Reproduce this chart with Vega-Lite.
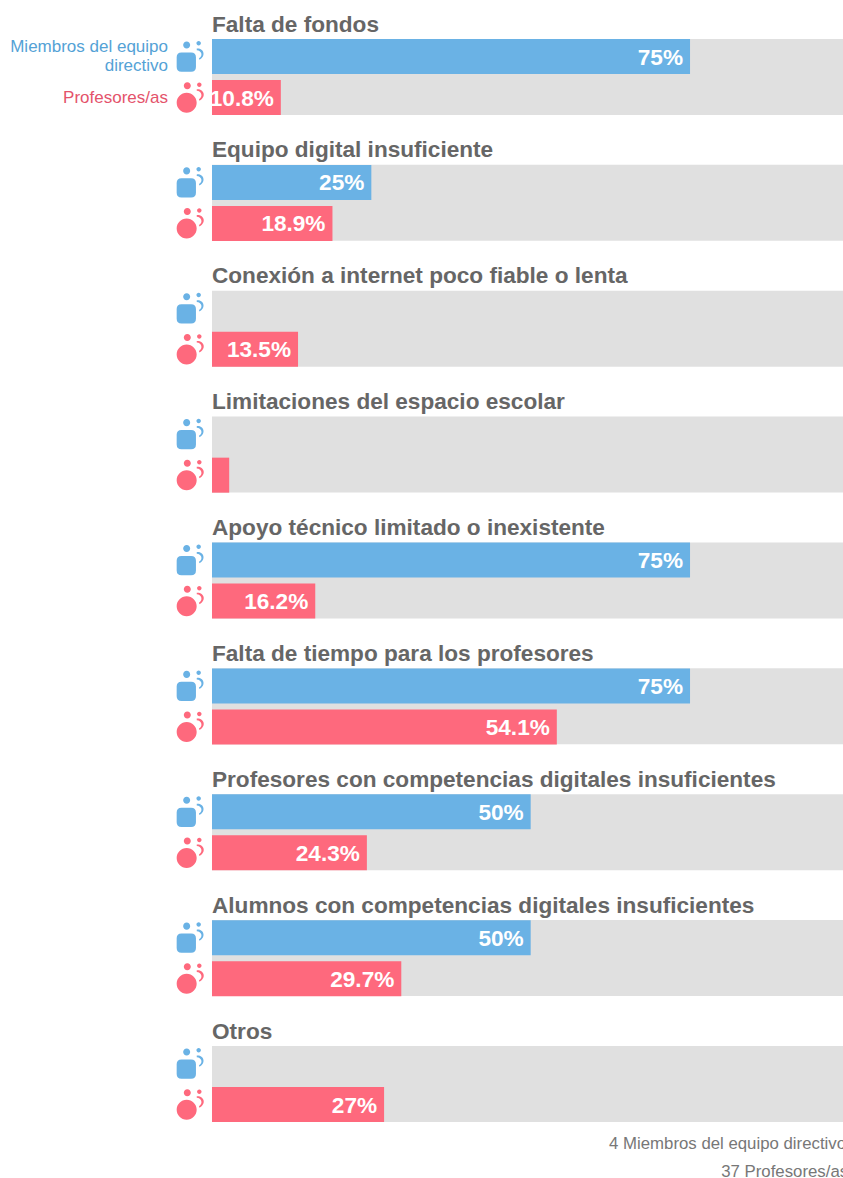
{"$schema":"https://vega.github.io/schema/vega-lite/v6.json","width":843,"height":1178,"padding":0,"autosize":{"type":"none"},"background":"white","config":{"view":{"stroke":null},"text":{"font":"Liberation Sans"}},
"datasets":{"rows":[
{"cat":"Falta de fondos","slot":"dir","value":75,"label":"75%"},{"cat":"Falta de fondos","slot":"prof","value":10.8,"label":"10.8%"},
{"cat":"Equipo digital insuficiente","slot":"dir","value":25,"label":"25%"},{"cat":"Equipo digital insuficiente","slot":"prof","value":18.9,"label":"18.9%"},
{"cat":"Conexión a internet poco fiable o lenta","slot":"dir","value":0,"label":"0%"},{"cat":"Conexión a internet poco fiable o lenta","slot":"prof","value":13.5,"label":"13.5%"},
{"cat":"Limitaciones del espacio escolar","slot":"dir","value":0,"label":"0%"},{"cat":"Limitaciones del espacio escolar","slot":"prof","value":2.7,"label":"2.7%"},
{"cat":"Apoyo técnico limitado o inexistente","slot":"dir","value":75,"label":"75%"},{"cat":"Apoyo técnico limitado o inexistente","slot":"prof","value":16.2,"label":"16.2%"},
{"cat":"Falta de tiempo para los profesores","slot":"dir","value":75,"label":"75%"},{"cat":"Falta de tiempo para los profesores","slot":"prof","value":54.1,"label":"54.1%"},
{"cat":"Profesores con competencias digitales insuficientes","slot":"dir","value":50,"label":"50%"},{"cat":"Profesores con competencias digitales insuficientes","slot":"prof","value":24.3,"label":"24.3%"},
{"cat":"Alumnos con competencias digitales insuficientes","slot":"dir","value":50,"label":"50%"},{"cat":"Alumnos con competencias digitales insuficientes","slot":"prof","value":29.7,"label":"29.7%"},
{"cat":"Otros","slot":"dir","value":0,"label":"0%"},{"cat":"Otros","slot":"prof","value":27,"label":"27%"}],
"titles":[{"cat":"Falta de fondos"},{"cat":"Equipo digital insuficiente"},{"cat":"Conexión a internet poco fiable o lenta"},{"cat":"Limitaciones del espacio escolar"},{"cat":"Apoyo técnico limitado o inexistente"},{"cat":"Falta de tiempo para los profesores"},{"cat":"Profesores con competencias digitales insuficientes"},{"cat":"Alumnos con competencias digitales insuficientes"},{"cat":"Otros"}]},
"encoding":{"y":{"field":"cat","type":"nominal","axis":null,"scale":{"domain":["Falta de fondos","Equipo digital insuficiente","Conexión a internet poco fiable o lenta","Limitaciones del espacio escolar","Apoyo técnico limitado o inexistente","Falta de tiempo para los profesores","Profesores con competencias digitales insuficientes","Alumnos con competencias digitales insuficientes","Otros","pie"],"range":[-6.4,1252.35],"paddingInner":0,"paddingOuter":0}}},
"layer":[
{"data":{"name":"titles"},"mark":{"type":"rule","clip":true,"color":"#e0e0e0","strokeWidth":76,"strokeCap":"butt"},"encoding":{
"y":{"field":"cat","type":"nominal","bandPosition":0.6625,"axis":null},
"x":{"datum":0,"type":"quantitative","axis":null,"scale":{"domain":[-33.26,99],"range":[0,843],"nice":false,"zero":false}},"x2":{"datum":100}}},
{"data":{"name":"rows"},"mark":{"type":"bar"},"encoding":{
"yOffset":{"field":"slot","type":"nominal","scale":{"domain":["title","dir","prof"],"paddingInner":0.146,"paddingOuter":0.108}},
"x":{"field":"value","type":"quantitative","axis":null,"scale":{"domain":[-33.26,99],"range":[0,843],"nice":false,"zero":false}},"x2":{"datum":0},"color":{"field":"slot","type":"nominal","legend":null,"scale":{"domain":["dir","prof"],"range":["#6ab2e5","#fe697d"]}}}},
{"data":{"name":"rows"},"transform":[{"filter":"datum.value>=5"}],"mark":{"type":"text","align":"right","baseline":"middle","dx":-7,"dy":1,"fontSize":22.6,"fontWeight":"bold","color":"white"},"encoding":{
"yOffset":{"field":"slot","type":"nominal","scale":{"domain":["title","dir","prof"],"paddingInner":0.146,"paddingOuter":0.108}},
"x":{"field":"value","type":"quantitative","axis":null,"scale":{"domain":[-33.26,99],"range":[0,843],"nice":false,"zero":false}},"text":{"field":"label"}}},
{"data":{"name":"rows"},"mark":{"type":"point","filled":true,"opacity":1,"size":1024},"encoding":{
"yOffset":{"field":"slot","type":"nominal","scale":{"domain":["title","dir","prof"],"paddingInner":0.146,"paddingOuter":0.108}},
"x":{"datum":-3.22,"type":"quantitative","axis":null,"scale":{"domain":[-33.26,99],"range":[0,843],"nice":false,"zero":false}},"color":{"field":"slot","type":"nominal","legend":null,"scale":{"domain":["dir","prof"],"range":["#6ab2e5","#fe697d"]}},"shape":{"field":"slot","type":"nominal","legend":null,"scale":{"domain":["dir","prof"],"range":[
"M-.52 -.72A.22 .22 0 1 1 -.08 -.72A.22 .22 0 1 1 -.52 -.72ZM.31 -.825A.14 .14 0 1 1 .59 -.825A.14 .14 0 1 1 .31 -.825ZM-.625 -.26H-.02Q.28 -.26 .28 .04V.65Q.28 .95 -.02 .95H-.625Q-.925 .95 -.925 .65V.04Q-.925 -.26 -.625 -.26ZM.33 -.5C.75 -.55 .95 -.05 .5 .2L.47 .1C.75 -.05 .62 -.4 .33 -.4Z",
"M-.48 -.74A.22 .22 0 1 1 -.04 -.74A.22 .22 0 1 1 -.48 -.74ZM.35 -.8A.14 .14 0 1 1 .63 -.8A.14 .14 0 1 1 .35 -.8ZM-.925 .325A.625 .625 0 1 1 .325 .325A.625 .625 0 1 1 -.925 .325ZM.33 -.52C.8 -.55 .95 -.05 .5 .2L.47 .1C.75 -.05 .62 -.42 .33 -.42Z"]}}}},
{"data":{"name":"titles"},"mark":{"type":"text","align":"left","baseline":"middle","dy":9,"fontSize":22.6,"fontWeight":"bold","color":"#666666"},"encoding":{
"yOffset":{"datum":"title","type":"nominal","scale":{"domain":["title","dir","prof"],"paddingInner":0.146,"paddingOuter":0.108}},
"x":{"datum":0,"type":"quantitative","axis":null,"scale":{"domain":[-33.26,99],"range":[0,843],"nice":false,"zero":false}},"text":{"field":"cat"}}},
{"data":{"values":[{"cat":"Falta de fondos","slot":"dir","t":"Miembros del equipo\ndirectivo"}]},"mark":{"type":"text","align":"right","baseline":"middle","lineBreak":"\n","lineHeight":19,"dy":-9.5,"fontSize":17,"color":"#54a2d6"},"encoding":{
"yOffset":{"field":"slot","type":"nominal","scale":{"domain":["title","dir","prof"],"paddingInner":0.146,"paddingOuter":0.108}},
"x":{"datum":-6.9,"type":"quantitative","axis":null,"scale":{"domain":[-33.26,99],"range":[0,843],"nice":false,"zero":false}},"text":{"field":"t"}}},
{"data":{"values":[{"cat":"Falta de fondos","slot":"prof","t":"Profesores/as"}]},"mark":{"type":"text","align":"right","baseline":"middle","fontSize":17,"color":"#e4536b"},"encoding":{
"yOffset":{"field":"slot","type":"nominal","scale":{"domain":["title","dir","prof"],"paddingInner":0.146,"paddingOuter":0.108}},
"x":{"datum":-6.9,"type":"quantitative","axis":null,"scale":{"domain":[-33.26,99],"range":[0,843],"nice":false,"zero":false}},"text":{"field":"t"}}},
{"data":{"values":[{"cat":"pie","slot":"title","t":"4 Miembros del equipo directivo"}]},"mark":{"type":"text","align":"left","baseline":"middle","dy":-4,"fontSize":16.8,"color":"#777777"},"encoding":{
"yOffset":{"field":"slot","type":"nominal","scale":{"domain":["title","dir","prof"],"paddingInner":0.146,"paddingOuter":0.108}},
"x":{"datum":62.3,"type":"quantitative","axis":null,"scale":{"domain":[-33.26,99],"range":[0,843],"nice":false,"zero":false}},"text":{"field":"t"}}},
{"data":{"values":[{"cat":"pie","slot":"dir","t":"37 Profesores/as"}]},"mark":{"type":"text","align":"left","baseline":"middle","dy":-17,"fontSize":16.8,"color":"#777777"},"encoding":{
"yOffset":{"field":"slot","type":"nominal","scale":{"domain":["title","dir","prof"],"paddingInner":0.146,"paddingOuter":0.108}},
"x":{"datum":79.9,"type":"quantitative","axis":null,"scale":{"domain":[-33.26,99],"range":[0,843],"nice":false,"zero":false}},"text":{"field":"t"}}}
]}
